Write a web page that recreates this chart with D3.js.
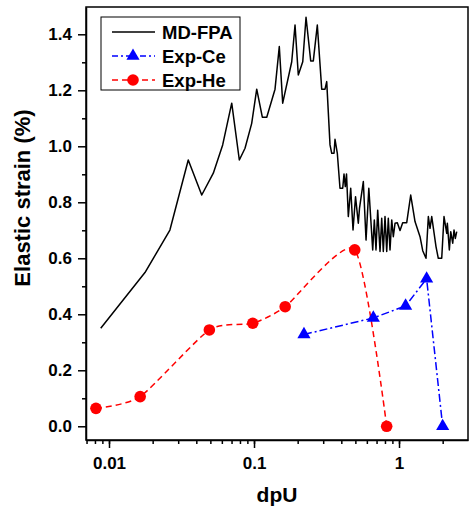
<!DOCTYPE html>
<html>
<head>
<meta charset="utf-8">
<script src="https://cdn.jsdelivr.net/npm/d3@7"></script>
<style>
  body { margin: 0; background: #fff; }
  svg { display: block; font-family: Arial, "Liberation Sans", sans-serif; font-weight: bold; }
  .axis path, .axis line { stroke: #000; stroke-width: 1.5; }
  .axis text { font-size: 17px; font-weight: bold; fill: #000; }
</style>
</head>
<body>
<svg width="472" height="511"></svg>
<script>
const mdX = [0.00877,0.0177,0.0263,0.0352,0.0436,0.0524,0.0608,0.0702,0.0792,0.0867,
  0.0964,0.1044,0.1141,0.1224,0.1396,0.1494,0.1577,0.182,0.1918,0.202,
  0.2168,0.2284,0.246,0.2564,0.2732,0.293,0.3088,0.3172,0.3343,0.3435,
  0.3562,0.3619,0.3754,0.3917,0.4089,0.4175,0.4262,0.4344,0.447,0.4644,
  0.4817,0.5012,0.5239,0.534,0.5673,0.5922,0.6191,0.6585,0.6755,0.6939,
  0.7128,0.7396,0.7597,0.7792,0.8005,0.8225,0.8436,0.8666,0.8906,0.9135,
  0.9384,0.9734,1.016,1.06,1.13,1.204,1.289,1.396,1.457,1.535,
  1.593,1.636,1.681,1.8,1.866,1.97,2.043,2.133,2.154,2.223,
  2.273,2.346,2.395,2.445,2.5];
const mdY = [0.35,0.549,0.701,0.951,0.826,0.904,1.005,1.154,0.951,0.993,
  1.082,1.204,1.104,1.104,1.204,1.356,1.154,1.302,1.433,1.255,
  1.302,1.461,1.305,1.305,1.433,1.204,1.204,1.231,1.005,0.975,
  0.975,1.025,0.975,0.85,0.85,0.901,0.856,0.901,0.749,0.85,
  0.701,0.82,0.725,0.779,0.874,0.665,0.85,0.63,0.737,0.63,
  0.772,0.624,0.743,0.624,0.749,0.624,0.743,0.63,0.737,0.677,
  0.725,0.727,0.699,0.727,0.727,0.826,0.731,0.677,0.627,0.6,
  0.749,0.707,0.749,0.641,0.6,0.6,0.749,0.689,0.725,0.63,
  0.695,0.654,0.701,0.671,0.695];

const ceX = [0.221, 0.665, 1.11, 1.55, 2.0];
const ceY = [0.328, 0.387, 0.43, 0.527, 0.0];

const heX = [0.00813, 0.0164, 0.0492, 0.098, 0.164, 0.495, 0.822];
const heY = [0.064, 0.106, 0.344, 0.368, 0.427, 0.63, 0.0];

const xTickLabels = [0.01, 0.1, 1];
const yTicks = [0, 0.2, 0.4, 0.6, 0.8, 1.0, 1.2, 1.4];
const seriesNames = ["MD-FPA", "Exp-Ce", "Exp-He"];

const svg = d3.select("svg");
const plotL = 86, plotR = 468, plotT = 7, plotB = 440;

const xScale = d3.scaleLog().domain([0.00694, 2.99]).range([plotL, plotR]);
const yScale = d3.scaleLinear().domain([-0.049, 1.4975]).range([plotB, plotT]);

// minor ticks: 1..9 multiples of each decade inside the domain
const xMinor = [];
[0.001, 0.01, 0.1, 1].forEach((d) => {
  for (let k = 1; k < 10; k++) {
    const v = d * k;
    if (v >= xScale.domain()[0] && v <= xScale.domain()[1]) xMinor.push(v);
  }
});
const yMinor = d3.range(0.1, 1.5, 0.2);

svg.append("g").attr("class", "axis")
  .attr("transform", `translate(0,${plotB})`)
  .call(d3.axisBottom(xScale).tickValues(xMinor).tickSize(4).tickFormat(""))
  .call((g) => g.select(".domain").remove());

svg.append("g").attr("class", "axis")
  .attr("transform", `translate(0,${plotB})`)
  .call(d3.axisBottom(xScale).tickValues(xTickLabels).tickSize(8).tickPadding(9).tickSizeOuter(0)
    .tickFormat((d) => String(d)));

svg.append("g").attr("class", "axis")
  .attr("transform", `translate(${plotL},0)`)
  .call(d3.axisLeft(yScale).tickValues(yMinor).tickSize(4).tickFormat(""))
  .call((g) => g.select(".domain").remove());

svg.append("g").attr("class", "axis")
  .attr("transform", `translate(${plotL},0)`)
  .call(d3.axisLeft(yScale).tickValues(yTicks).tickSize(8).tickPadding(6).tickSizeOuter(0)
    .tickFormat(d3.format(".1f")));

svg.append("rect")
  .attr("x", plotL).attr("y", plotT)
  .attr("width", plotR - plotL).attr("height", plotB - plotT)
  .attr("fill", "none").attr("stroke", "#000").attr("stroke-width", 1.5);

const line = d3.line().x((d) => xScale(d[0])).y((d) => yScale(d[1]));

svg.append("path")
  .datum(d3.zip(mdX, mdY))
  .attr("d", line)
  .attr("fill", "none").attr("stroke", "#000").attr("stroke-width", 1.5)
  .attr("stroke-linejoin", "round");

const heData = d3.zip(heX, heY);
svg.append("path")
  .datum(heData)
  .attr("d", d3.line().x((d) => xScale(d[0])).y((d) => yScale(d[1])).curve(d3.curveCardinal.tension(0.35)))
  .attr("fill", "none").attr("stroke", "#ff0000").attr("stroke-width", 1.5)
  .attr("stroke-dasharray", "6,4");

const ceData = d3.zip(ceX, ceY);
svg.append("path")
  .datum(ceData)
  .attr("d", line)
  .attr("fill", "none").attr("stroke", "#0000ff").attr("stroke-width", 1.5)
  .attr("stroke-dasharray", "8,3,2,3");

const tri = d3.symbol().type(d3.symbolTriangle).size(75);

svg.selectAll(".he")
  .data(heData)
  .enter()
  .append("circle")
  .attr("class", "he")
  .attr("cx", (d) => xScale(d[0]))
  .attr("cy", (d) => yScale(d[1]))
  .attr("r", 5.8)
  .attr("fill", "#ff0000");

svg.selectAll(".ce")
  .data(ceData)
  .enter()
  .append("path")
  .attr("class", "ce")
  .attr("d", tri)
  .attr("transform", (d) => `translate(${xScale(d[0])},${yScale(d[1])})`)
  .attr("fill", "#0000ff");

// legend
const legend = svg.append("g");
legend.append("rect")
  .attr("x", 101).attr("y", 17).attr("width", 139).attr("height", 73)
  .attr("fill", "#fff").attr("stroke", "#000").attr("stroke-width", 1);

const rows = [32, 56, 80];
const styles = [
  { stroke: "#000", dash: null },
  { stroke: "#0000ff", dash: "6,3,2,3" },
  { stroke: "#ff0000", dash: "6,4" }
];
seriesNames.forEach((name, i) => {
  legend.append("line")
    .attr("x1", 112).attr("x2", 155).attr("y1", rows[i]).attr("y2", rows[i])
    .attr("stroke", styles[i].stroke).attr("stroke-width", 1.5)
    .attr("stroke-dasharray", styles[i].dash);
  legend.append("text")
    .attr("x", 162).attr("y", rows[i] + 6.5)
    .attr("font-size", 18.5)
    .text(name);
});
legend.append("path").attr("d", tri).attr("transform", `translate(133,${rows[1]})`).attr("fill", "#0000ff");
legend.append("circle").attr("cx", 133).attr("cy", rows[2]).attr("r", 5.8).attr("fill", "#ff0000");

svg.append("text")
  .attr("transform", "translate(30,198) rotate(-90)")
  .attr("text-anchor", "middle")
  .attr("font-size", 22)
  .text("Elastic strain (%)");

svg.append("text")
  .attr("x", 277).attr("y", 502)
  .attr("text-anchor", "middle")
  .attr("font-size", 21)
  .text("dpU");
</script>
</body>
</html>
